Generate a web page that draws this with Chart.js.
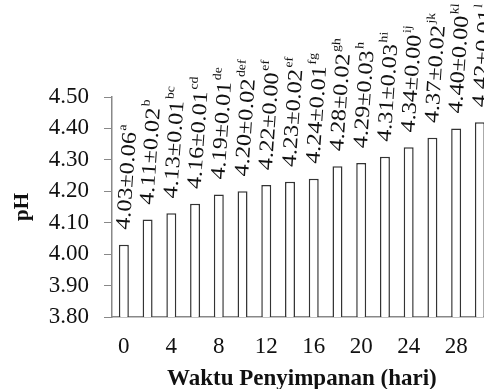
<!DOCTYPE html>
<html lang="id">
<head>
<meta charset="UTF-8">
<title>pH selama penyimpanan</title>
<script src="https://cdn.jsdelivr.net/npm/chart.js"></script>
<style>
    html, body { margin: 0; padding: 0; background: #fff; overflow: hidden; }
    #wadah { width: 496px; height: 400px; }
</style>
</head>
<body>
<div id="wadah"><canvas id="grafikPH" width="496" height="400"></canvas></div>
<script>
// Data
const hari = ['0', '2', '4', '6', '8', '10', '12', '14', '16', '18', '20', '22', '24', '26', '28', '30'];
const nilaiPH = [4.03, 4.11, 4.13, 4.16, 4.19, 4.20, 4.22, 4.23, 4.24, 4.28, 4.29, 4.31, 4.34, 4.37, 4.40, 4.42];
const simpanganBaku = ['0.06', '0.02', '0.01', '0.01', '0.01', '0.02', '0.00', '0.02', '0.01', '0.02', '0.03', '0.03', '0.00', '0.02', '0.00', '0.01'];
const notasi = ['a', 'b', 'bc', 'cd', 'de', 'def', 'ef', 'ef', 'fg', 'gh', 'h', 'hi', 'ij', 'jk', 'kl', 'l'];
const ticksY = [3.80, 3.90, 4.00, 4.10, 4.20, 4.30, 4.40, 4.50];

const SERIF = '"Liberation Serif", "Times New Roman", serif';

// label miring di atas batang: nilai ± SD dengan notasi superskrip
const labelBatang = {
    id: 'labelBatang',
    afterDatasetsDraw(chart) {
        const ctx = chart.ctx;
        const meta = chart.getDatasetMeta(0);
        meta.data.forEach((bar, i) => {
            const teks = nilaiPH[i].toFixed(2) + '±' + simpanganBaku[i];
            ctx.save();
            ctx.translate(bar.x, bar.y - 15);
            ctx.rotate(-86 * Math.PI / 180);
            ctx.scale(1.15, 1);
            ctx.fillStyle = '#111';
            ctx.textAlign = 'left';
            ctx.textBaseline = 'middle';
            ctx.font = '21px ' + SERIF;
            ctx.fillText(teks, 0, 0);
            const w = ctx.measureText(teks).width;
            ctx.font = '12px ' + SERIF;
            ctx.fillText(notasi[i], w + 1, -8);
            ctx.restore();
        });
    }
};

new Chart(document.getElementById('grafikPH'), {
    type: 'bar',
    data: {
        labels: hari,
        datasets: [{
            data: nilaiPH,
            backgroundColor: '#ffffff',
            borderColor: '#333333',
            borderWidth: 1.5,
            borderSkipped: 'bottom',
            barPercentage: 0.42,
            categoryPercentage: 1
        }]
    },
    options: {
        responsive: false,
        animation: false,
        layout: { padding: { top: 97, right: 4, left: 0, bottom: 0 } },
        plugins: {
            legend: { display: false },
            tooltip: { enabled: false }
        },
        scales: {
            x: {
                grid: { display: false, drawTicks: false },
                border: { display: true, color: '#888', width: 1.5 },
                ticks: {
                    autoSkip: false,
                    maxRotation: 0,
                    padding: 16,
                    color: '#111',
                    font: { family: SERIF, size: 23 },
                    callback: (v, i) => (i % 2 === 0 ? hari[i] : '')
                },
                title: {
                    display: true,
                    text: 'Waktu Penyimpanan (hari)',
                    color: '#111',
                    font: { family: SERIF, size: 23, weight: 'bold' },
                    padding: { top: 0, bottom: 7 }
                },
                afterFit: (s) => { s.height = 83; }
            },
            y: {
                min: 3.8,
                max: 4.5,
                afterBuildTicks: (s) => { s.ticks = ticksY.map(v => ({ value: v })); },
                grid: { display: true, drawOnChartArea: false, drawTicks: true, tickLength: 8, color: '#888', lineWidth: 1 },
                border: { display: true, color: '#888', width: 1.5 },
                ticks: {
                    padding: 15,
                    color: '#111',
                    font: { family: SERIF, size: 23 },
                    callback: (v) => Number(v).toFixed(2)
                },
                title: {
                    display: true,
                    text: 'pH',
                    color: '#111',
                    font: { family: SERIF, size: 21, weight: 'bold' },
                    padding: { top: 10, bottom: 0 }
                },
                afterFit: (s) => { s.width = 112; }
            }
        }
    },
    plugins: [labelBatang]
});
</script>
</body>
</html>
